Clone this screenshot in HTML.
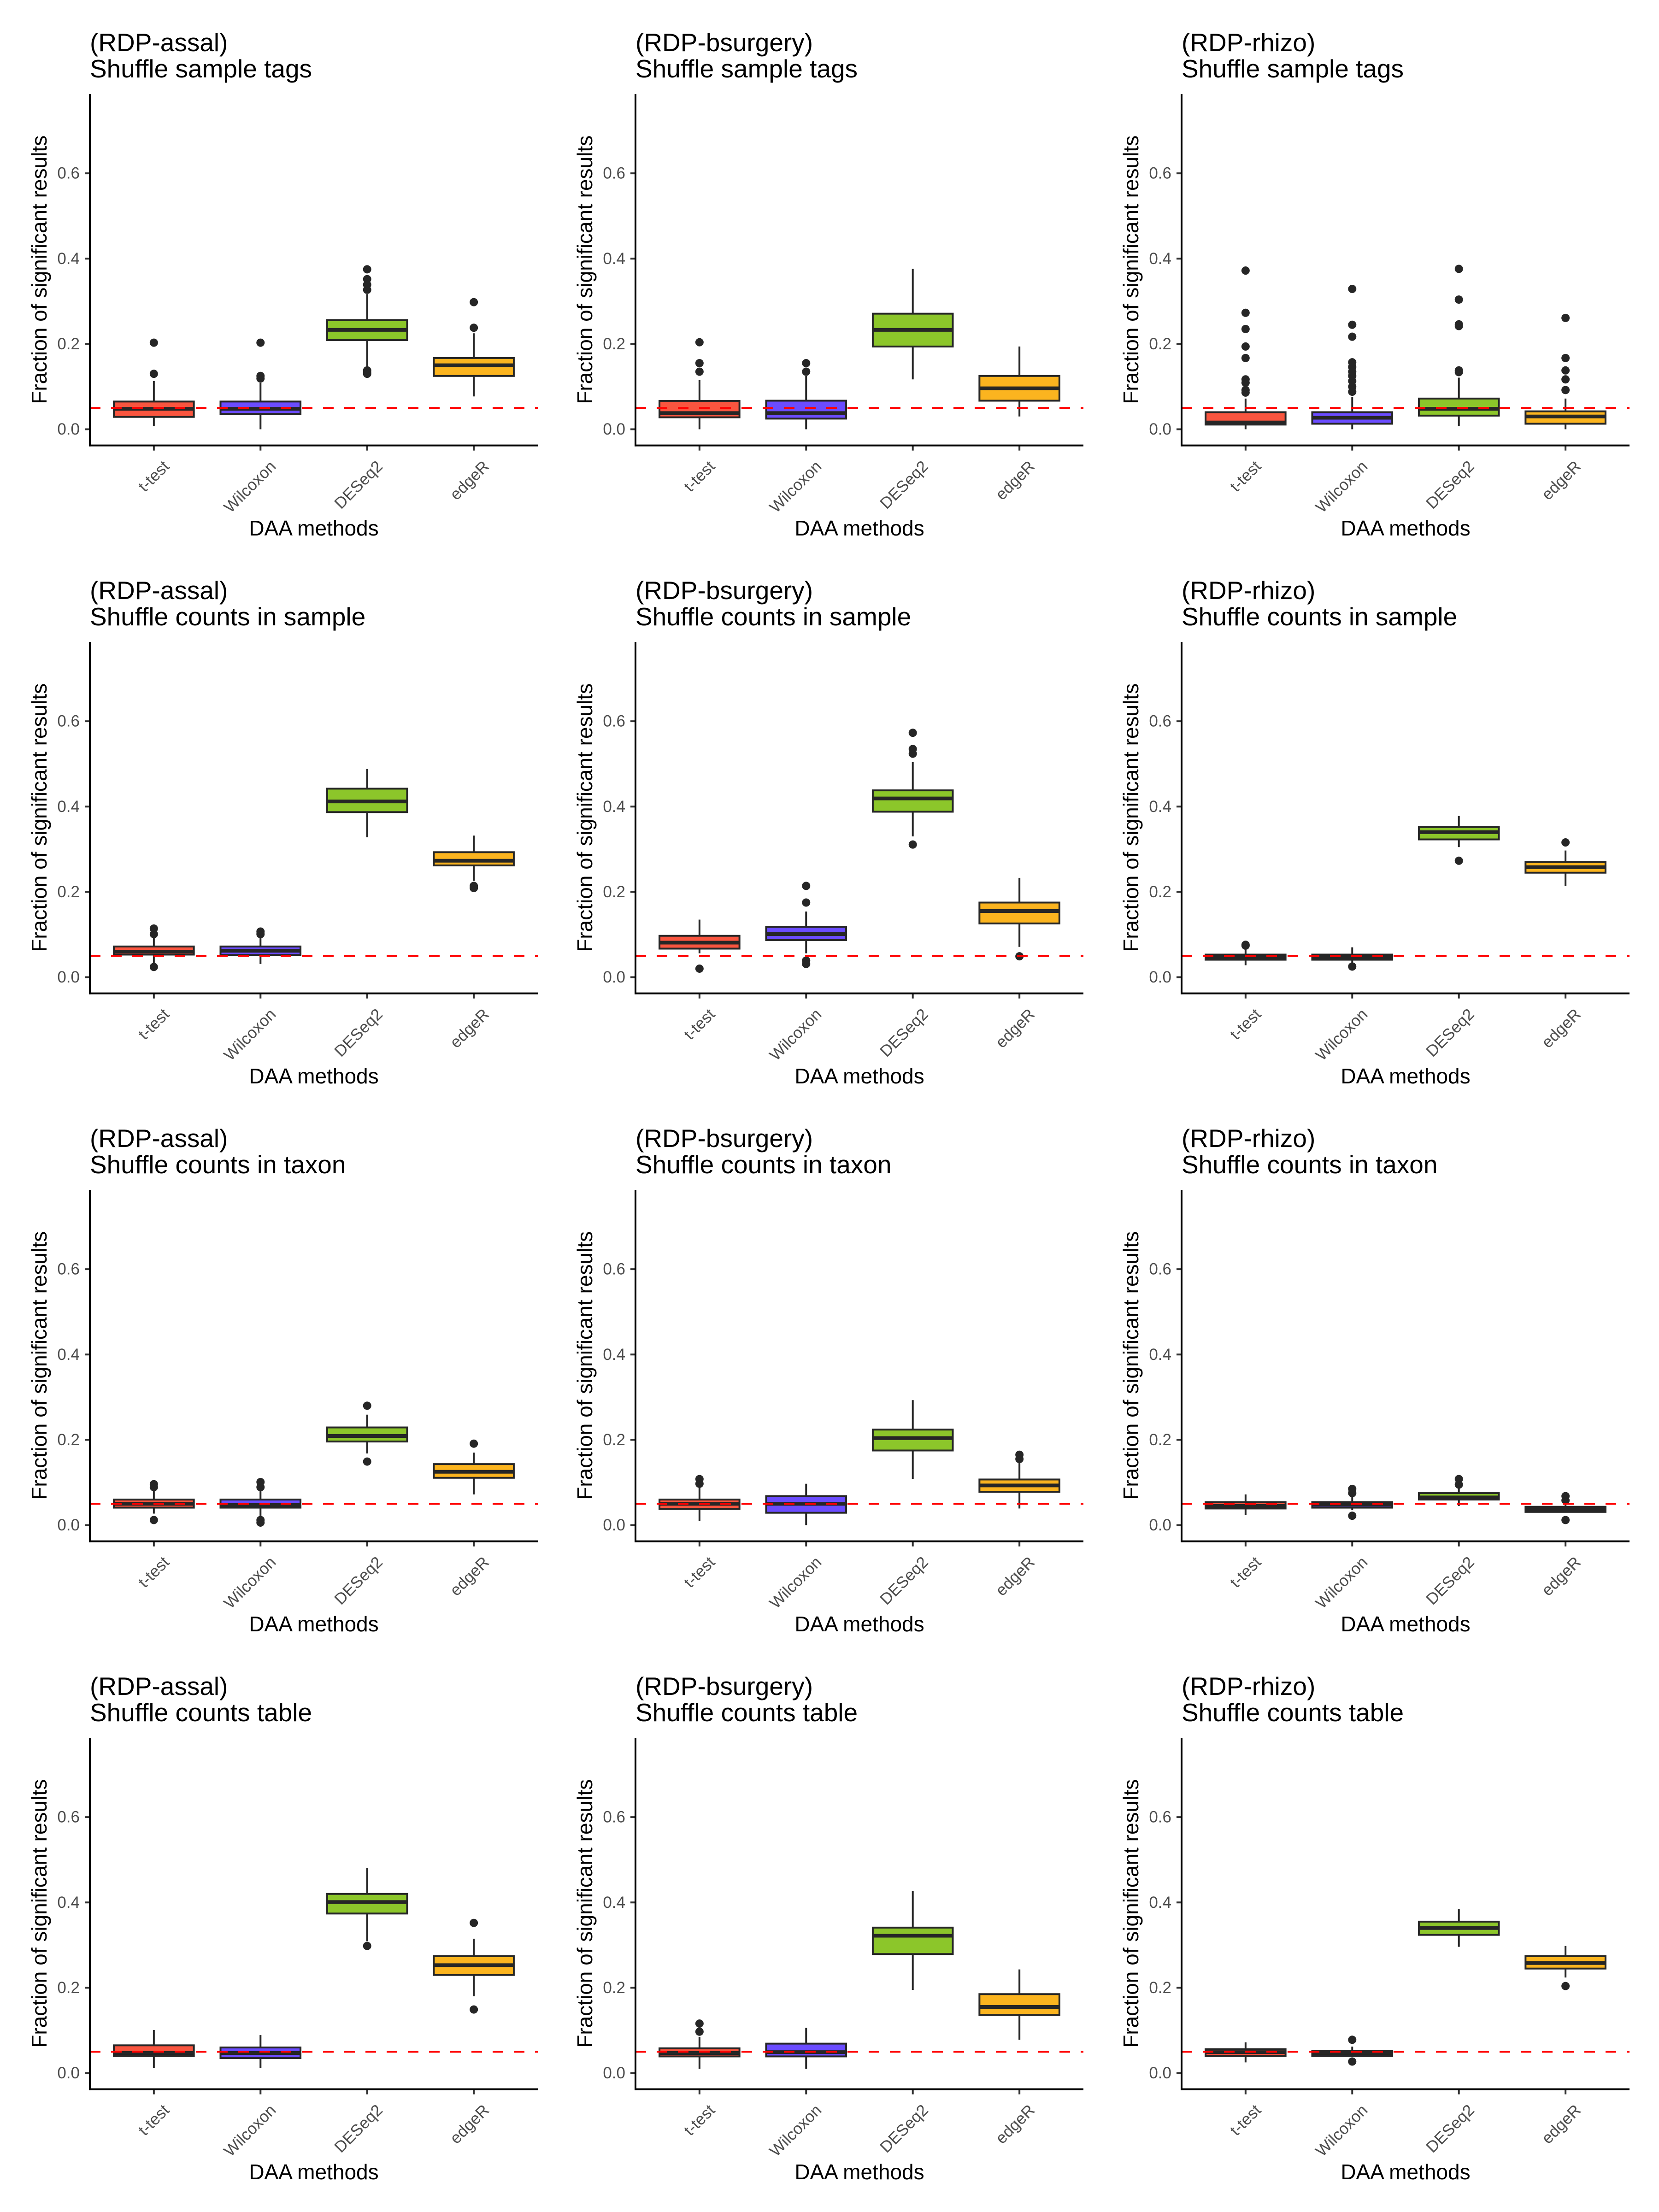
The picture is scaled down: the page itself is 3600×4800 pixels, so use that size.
<!DOCTYPE html>
<html><head><meta charset="utf-8"><style>
html,body{margin:0;padding:0;background:#fff;}
svg{display:block;font-family:"Liberation Sans",Arial,sans-serif;}
</style></head><body>
<svg id="fig" width="3600" height="4800" viewBox="0 0 3600 4800" xmlns="http://www.w3.org/2000/svg"></svg>
<script>
const datasets = ["(RDP-assal)","(RDP-bsurgery)","(RDP-rhizo)"];
const shuffles = ["Shuffle sample tags","Shuffle counts in sample","Shuffle counts in taxon","Shuffle counts table"];
const methods = ["t-test","Wilcoxon","DESeq2","edgeR"];
const fills = ["#F9553F","#6B4CFF","#8CC62A","#FBB41F"];
const yTicks = [0.0,0.2,0.4,0.6];
const yTickLabels = ["0.0","0.2","0.4","0.6"];
const threshold = 0.05;
// panel order: row-major (row = shuffle type, col = dataset)
const lowW = [
 [0.007,0.000,0.142,0.077],[0.000,0.000,0.117,0.030],[0.000,0.000,0.007,0.000],
 [0.031,0.031,0.328,0.226],[0.056,0.056,0.330,0.071],[0.028,0.031,0.305,0.214],
 [0.027,0.022,0.168,0.072],[0.010,0.000,0.108,0.039],[0.024,0.035,0.045,0.031],
 [0.012,0.012,0.309,0.180],[0.010,0.010,0.195,0.078],[0.025,0.040,0.296,0.224]];
const q1 = [
 [0.029,0.036,0.209,0.125],[0.028,0.025,0.194,0.067],[0.011,0.013,0.032,0.013],
 [0.053,0.052,0.387,0.262],[0.067,0.087,0.388,0.126],[0.041,0.041,0.323,0.245],
 [0.041,0.041,0.196,0.111],[0.038,0.029,0.175,0.078],[0.039,0.041,0.060,0.031],
 [0.040,0.035,0.374,0.230],[0.039,0.039,0.279,0.136],[0.040,0.040,0.324,0.245]];
const medians = [
 [0.048,0.048,0.233,0.150],[0.038,0.038,0.233,0.096],[0.016,0.027,0.048,0.030],
 [0.060,0.062,0.412,0.273],[0.081,0.101,0.419,0.155],[0.047,0.047,0.340,0.258],
 [0.050,0.047,0.209,0.125],[0.050,0.050,0.204,0.093],[0.045,0.048,0.065,0.037],
 [0.047,0.047,0.401,0.253],[0.047,0.049,0.322,0.155],[0.049,0.047,0.340,0.258]];
const q3 = [
 [0.065,0.065,0.256,0.167],[0.0665,0.067,0.271,0.125],[0.040,0.040,0.072,0.042],
 [0.072,0.072,0.442,0.293],[0.097,0.118,0.438,0.175],[0.053,0.053,0.352,0.270],
 [0.060,0.060,0.229,0.143],[0.060,0.068,0.224,0.107],[0.054,0.054,0.075,0.043],
 [0.065,0.060,0.420,0.274],[0.058,0.069,0.341,0.185],[0.056,0.052,0.355,0.274]];
const highW = [
 [0.113,0.109,0.317,0.225],[0.115,0.125,0.376,0.194],[0.072,0.076,0.121,0.072],
 [0.093,0.093,0.488,0.332],[0.135,0.154,0.504,0.233],[0.064,0.070,0.378,0.297],
 [0.081,0.081,0.259,0.170],[0.089,0.097,0.293,0.147],[0.072,0.068,0.089,0.056],
 [0.101,0.089,0.481,0.315],[0.085,0.106,0.427,0.243],[0.072,0.062,0.384,0.298]];
const outliers = [
 [[0.130,0.203],[0.119,0.125,0.203],[0.130,0.134,0.138,0.327,0.339,0.352,0.375],[0.238,0.298]],
 [[0.135,0.155,0.204],[0.135,0.155],[],[]],
 [[0.086,0.092,0.109,0.117,0.167,0.194,0.235,0.273,0.372],[0.088,0.100,0.113,0.125,0.135,0.146,0.157,0.217,0.245,0.329],[0.134,0.138,0.242,0.246,0.304,0.376],[0.092,0.117,0.138,0.167,0.261]],
 [[0.024,0.101,0.114],[0.101,0.107],[],[0.209,0.214]],
 [[0.020],[0.031,0.039,0.175,0.214],[0.311,0.524,0.535,0.573],[0.049]],
 [[0.074,0.076],[0.025],[0.273],[0.316]],
 [[0.012,0.089,0.096],[0.006,0.012,0.089,0.101],[0.149,0.280],[0.191]],
 [[0.097,0.108],[],[],[0.155,0.165]],
 [[],[0.022,0.075,0.085],[0.095,0.108],[0.012,0.058,0.068]],
 [[],[],[0.298],[0.149,0.352]],
 [[0.097,0.116],[],[],[]],
 [[],[0.027,0.078],[],[0.204]]];

const NS="http://www.w3.org/2000/svg";
const svg=document.getElementById('fig');
function mk(tag,attrs,parent){const e=document.createElementNS(NS,tag);for(const k in attrs)e.setAttribute(k,attrs[k]);(parent||svg).appendChild(e);return e;}

const colOff=[195,179,164];
const plotW=972, rowStep=1189, zero0=931.5, unitPx=925.6;
const yMin=-0.038, yMax=0.786;

for(let r=0;r<4;r++){
 for(let c=0;c<3;c++){
  const p=r*3+c;
  const g=mk('g',{});
  
  
  const L=c*1200+colOff[c], R=L+plotW;
  const zeroY=zero0+r*rowStep;
  const yS=v=>zeroY-v*unitPx;
  const top=yS(yMax), bot=yS(yMin);
  const bandW=plotW/4.2;
  const xS=i=>L+bandW*(0.6+i);
  const t1=mk('text',{x:L,y:111+r*rowStep,'font-size':55,fill:'#000'},g);t1.textContent=datasets[c];
  
  
  const t2=mk('text',{x:L,y:168+r*rowStep,'font-size':55,fill:'#000'},g);t2.textContent=shuffles[r];
  
  
  const yl=mk('text',{x:L-110,y:(top+bot)/2,'font-size':46,'text-anchor':'middle','dominant-baseline':'central',transform:`rotate(-90 ${L-110} ${(top+bot)/2})`,fill:'#000'},g);
  yl.textContent='Fraction of significant results';
  
  
  const xl=mk('text',{x:L+plotW/2,y:1162+r*rowStep,'font-size':46,'text-anchor':'middle',fill:'#000'},g);
  xl.textContent='DAA methods';
  
  
  yTicks.forEach((v,i)=>{
   const y=yS(v);
   mk('line',{x1:L-11,x2:L,y1:y,y2:y,stroke:'#333','stroke-width':4},g);
   const tl=mk('text',{x:L-22,y:y,'font-size':35,'text-anchor':'end','dominant-baseline':'central',fill:'#4d4d4d'},g);
   tl.textContent=yTickLabels[i];
   
   
  });
  methods.forEach((m,i)=>{
   const cx=xS(i), bw=bandW*0.75;
   const bg=mk('g',{},g);
   
   
   mk('line',{x1:cx,x2:cx,y1:yS(highW[p][i]),y2:yS(q3[p][i]),stroke:'#262626','stroke-width':4},bg);
   mk('line',{x1:cx,x2:cx,y1:yS(q1[p][i]),y2:yS(lowW[p][i]),stroke:'#262626','stroke-width':4},bg);
   mk('rect',{x:cx-bw/2,y:yS(q3[p][i]),width:bw,height:Math.max(1,yS(q1[p][i])-yS(q3[p][i])),fill:fills[i],stroke:'#262626','stroke-width':4},bg);
   mk('line',{x1:cx-bw/2,x2:cx+bw/2,y1:yS(medians[p][i]),y2:yS(medians[p][i]),stroke:'#262626','stroke-width':8},bg);
   outliers[p][i].forEach(v=>{
    const o=mk('circle',{cx:cx,cy:yS(v),r:9,fill:'#262626'},bg);
    
    
   });
   mk('line',{x1:cx,x2:cx,y1:bot,y2:bot+11,stroke:'#333','stroke-width':4},g);
   const ax=cx+18, ay=bot+30;
   const xt=mk('text',{x:ax,y:ay,'font-size':35,'text-anchor':'end','dominant-baseline':'hanging',fill:'#4d4d4d',transform:`rotate(-45 ${ax} ${ay})`},g);
   xt.textContent=m;
   
   
  });
  const hl=mk('line',{x1:L,x2:R,y1:yS(threshold),y2:yS(threshold),stroke:'#FF0000','stroke-width':4,'stroke-dasharray':'23 23'},g);
  
  
  const ya=mk('line',{x1:L,x2:L,y1:top,y2:bot+2,stroke:'#000','stroke-width':4},g);
  
  
  const xa=mk('line',{x1:L-2,x2:R,y1:bot,y2:bot,stroke:'#000','stroke-width':4},g);
  
  
 }
}
</script>
</body></html>
